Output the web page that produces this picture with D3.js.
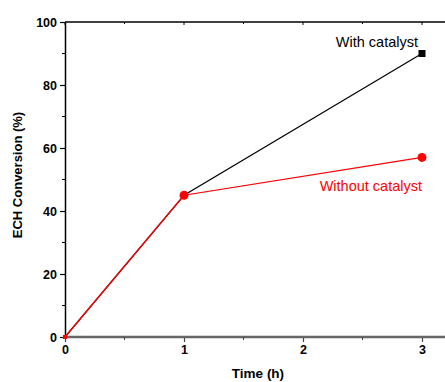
<!DOCTYPE html>
<html>
<head>
<meta charset="utf-8">
<script src="https://cdn.jsdelivr.net/npm/d3@7"></script>
<style>
  body { margin: 0; background: #fff; }
  text { font-family: Arial, "Liberation Sans", sans-serif; }
</style>
</head>
<body>
<div id="chart"></div>
<script>
// data
var times = [0, 1, 3];
var withCatalyst = [0, 45, 90];
var withoutCatalyst = [0, 45, 57];
var xTicks = [0, 1, 2, 3];
var yTicks = [0, 20, 40, 60, 80, 100];

var width = 445, height = 382;
var margin = { top: 22, right: 0, bottom: 45, left: 65 };

var svg = d3.select("#chart").append("svg")
  .attr("width", width)
  .attr("height", height);

var x = d3.scaleLinear().domain([0, 3]).range([margin.left, 422]);
var y = d3.scaleLinear().domain([0, 100]).range([height - margin.bottom, margin.top]);

// top frame line with inward ticks
svg.append("line")
  .attr("x1", x(0)).attr("x2", width)
  .attr("y1", y(100)).attr("y2", y(100))
  .attr("stroke", "#000").attr("stroke-width", 1.5);
svg.append("g").selectAll("line")
  .data(d3.range(0, 3.01, 0.5))
  .enter().append("line")
  .attr("x1", function (d) { return x(d); })
  .attr("x2", function (d) { return x(d); })
  .attr("y1", y(100))
  .attr("y2", function (d) { return y(100) + (d % 1 === 0 ? 3 : 2); })
  .attr("stroke", "#000").attr("stroke-width", 1);

// y axis
var yAxis = svg.append("g")
  .attr("transform", "translate(" + x(0) + ",0)")
  .call(d3.axisLeft(y).tickValues(yTicks).tickSize(5).tickSizeOuter(0).tickPadding(3));
yAxis.select(".domain").attr("stroke", "#000").attr("stroke-width", 1.5);
yAxis.selectAll(".tick line").attr("stroke-width", 1.2);
yAxis.selectAll("text")
  .style("font-size", "12.5px").style("font-weight", "bold").attr("fill", "#000");
svg.append("g").selectAll("line")
  .data(d3.range(10, 100, 20))
  .enter().append("line")
  .attr("x1", x(0) - 3).attr("x2", x(0))
  .attr("y1", function (d) { return y(d); })
  .attr("y2", function (d) { return y(d); })
  .attr("stroke", "#000").attr("stroke-width", 1);

// x axis
var xAxis = svg.append("g")
  .attr("transform", "translate(0," + y(0) + ")")
  .call(d3.axisBottom(x).tickValues(xTicks).tickFormat(d3.format("d")).tickSize(5).tickSizeOuter(0).tickPadding(3));
xAxis.select(".domain").remove();
xAxis.append("line")
  .attr("x1", x(0) - 2).attr("x2", width)
  .attr("stroke", "#666").attr("stroke-width", 2.5);
xAxis.selectAll(".tick line").attr("stroke", "#444").attr("stroke-width", 1.2);
xAxis.selectAll("text")
  .style("font-size", "12.5px").style("font-weight", "bold").attr("fill", "#000");
svg.append("g").selectAll("line")
  .data([0.5, 1.5, 2.5])
  .enter().append("line")
  .attr("x1", function (d) { return x(d); })
  .attr("x2", function (d) { return x(d); })
  .attr("y1", y(0)).attr("y2", y(0) + 3)
  .attr("stroke", "#444").attr("stroke-width", 1);

// axis titles
svg.append("text")
  .attr("x", 258).attr("y", 378)
  .attr("text-anchor", "middle")
  .style("font-size", "13.5px").style("font-weight", "bold")
  .text("Time (h)");
svg.append("text")
  .attr("transform", "translate(22,175) rotate(-90)")
  .attr("text-anchor", "middle")
  .style("font-size", "13px").style("font-weight", "bold")
  .text("ECH Conversion (%)");

var line = d3.line()
  .x(function (d, i) { return x(times[i]); })
  .y(function (d) { return y(d); });

// marker half-size per point (origin small, shared point hidden under red dot)
var sqHalf = [2, 3, 3.5];

// with catalyst (black)
svg.append("path")
  .datum(withCatalyst)
  .attr("d", line)
  .attr("fill", "none").attr("stroke", "#000").attr("stroke-width", 1.2);
svg.append("g").selectAll("rect")
  .data(withCatalyst)
  .enter().append("rect")
  .attr("x", function (d, i) { return x(times[i]) - sqHalf[i]; })
  .attr("y", function (d, i) { return y(d) - sqHalf[i]; })
  .attr("width", function (d, i) { return 2 * sqHalf[i]; })
  .attr("height", function (d, i) { return 2 * sqHalf[i]; })
  .attr("fill", "#000");

// without catalyst (red)
svg.append("path")
  .datum(withoutCatalyst)
  .attr("d", line)
  .attr("fill", "none").attr("stroke", "#f00").attr("stroke-width", 1.2);
svg.append("g").selectAll(".dot")
  .data(withoutCatalyst)
  .enter().append("path")
  .attr("class", "dot")
  .attr("transform", function (d, i) { return "translate(" + x(times[i]) + "," + y(d) + ")"; })
  .attr("d", function (d, i) {
    return i === 0
      ? d3.symbol().type(d3.symbolSquare).size(16)()
      : d3.symbol().type(d3.symbolCircle).size(62)();
  })
  .attr("fill", "#f00");

// annotations
svg.append("text")
  .attr("x", 418).attr("y", 47)
  .attr("text-anchor", "end")
  .style("font-size", "14.5px")
  .attr("fill", "#000")
  .text("With catalyst");
svg.append("text")
  .attr("x", 422).attr("y", 191)
  .attr("text-anchor", "end")
  .style("font-size", "14.5px")
  .attr("fill", "#f00")
  .text("Without catalyst");
</script>
</body>
</html>
